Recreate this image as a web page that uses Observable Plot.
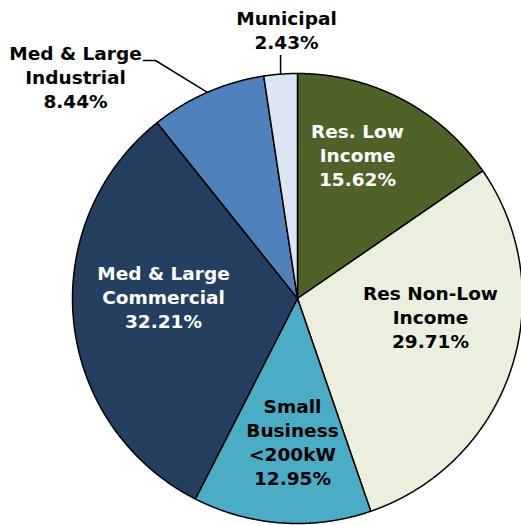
<!DOCTYPE html>
<html><head><meta charset="utf-8">
<script src="https://cdn.jsdelivr.net/npm/d3@7"></script>
<script src="https://cdn.jsdelivr.net/npm/@observablehq/plot@0.6"></script>
<style>
body{margin:0;background:#fff;}
</style>
</head><body><div id="chart"></div>
<script>
// ---- data ----
const categories = ["Res. Low Income","Res Non-Low Income","Small Business <200kW","Med & Large Commercial","Med & Large Industrial","Municipal"];
const shares = [15.62, 29.71, 12.95, 32.21, 8.44, 2.43];
const labelLines = [
  ["Res. Low","Income","15.62%"],
  ["Res Non-Low","Income","29.71%"],
  ["Small","Business","<200kW","12.95%"],
  ["Med & Large","Commercial","32.21%"],
  ["Med & Large","Industrial","8.44%"],
  ["Municipal","2.43%"]
];
const sliceColors = ["#4f6228","#ebf0de","#4bacc6","#253f60","#4f81bd","#dce6f2"];
const labelColors = ["#ffffff","#000000","#000000","#ffffff","#000000","#000000"];

// ---- layout (pixels) ----
const W = 521, H = 525, cx = 297, cy = 298, R = 225;
const labelCenters = [[357,154],[430,316],[292,441],[163,296],[75,76],[286,29]];
const leaderWaypoints = {5: [["keep",55]], 4: [[155,60],[143,60]]};

const toU = ([px,py]) => [(px-cx)/R, (cy-py)/R];

const arcs = d3.pie().sort(null).value(d => d).startAngle(0).endAngle(2*Math.PI)(shares);

const slicePts = [];
arcs.forEach((a, i) => {
  const name = categories[i];
  slicePts.push({name, x: 0, y: 0});
  const n = Math.max(4, Math.ceil((a.endAngle - a.startAngle) / 0.004));
  for (let k = 0; k <= n; k++) {
    const t = a.startAngle + (a.endAngle - a.startAngle) * k / n;
    slicePts.push({name, x: Math.sin(t), y: Math.cos(t)});
  }
  slicePts.push({name, x: 0, y: 0});
});

const leaderPts = [];
Object.entries(leaderWaypoints).forEach(([i, wps]) => {
  const a = arcs[+i];
  const m = (a.startAngle + a.endAngle) / 2;
  const p0 = {x: Math.sin(m), y: Math.cos(m)};
  leaderPts.push({id: i, ...p0});
  wps.forEach(([px, py]) => {
    const u = toU([px === "keep" ? cx + p0.x*R : px, py]);
    leaderPts.push({id: i, x: u[0], y: u[1]});
  });
});

const labels = categories.map((name, i) => {
  const u = toU(labelCenters[i]);
  return {name, x: u[0], y: u[1], text: labelLines[i].join("\n"), color: labelColors[i]};
});

const chart = Plot.plot({
  width: W, height: H, margin: 0,
  x: {domain: [-cx/R, (W-cx)/R], axis: null},
  y: {domain: [-(H-cy)/R, cy/R], axis: null},
  color: {domain: categories, range: sliceColors},
  style: {fontFamily: "'DejaVu Sans', sans-serif", background: "#fff"},
  marks: [
    Plot.line(slicePts, {x: "x", y: "y", z: "name", fill: "name", stroke: "#000", strokeWidth: 1.5, strokeLinejoin: "round", curve: "linear"}),
    Plot.line(leaderPts, {x: "x", y: "y", z: "id", stroke: "#000", strokeWidth: 1.5}),
    Plot.text(labels, {x: "x", y: "y", text: "text", fill: "color", fontSize: 18.5, fontWeight: "bold", lineHeight: 1.3, textAnchor: "middle", lineAnchor: "middle"})
  ]
});
document.getElementById("chart").appendChild(chart);
</script>
</body></html>
